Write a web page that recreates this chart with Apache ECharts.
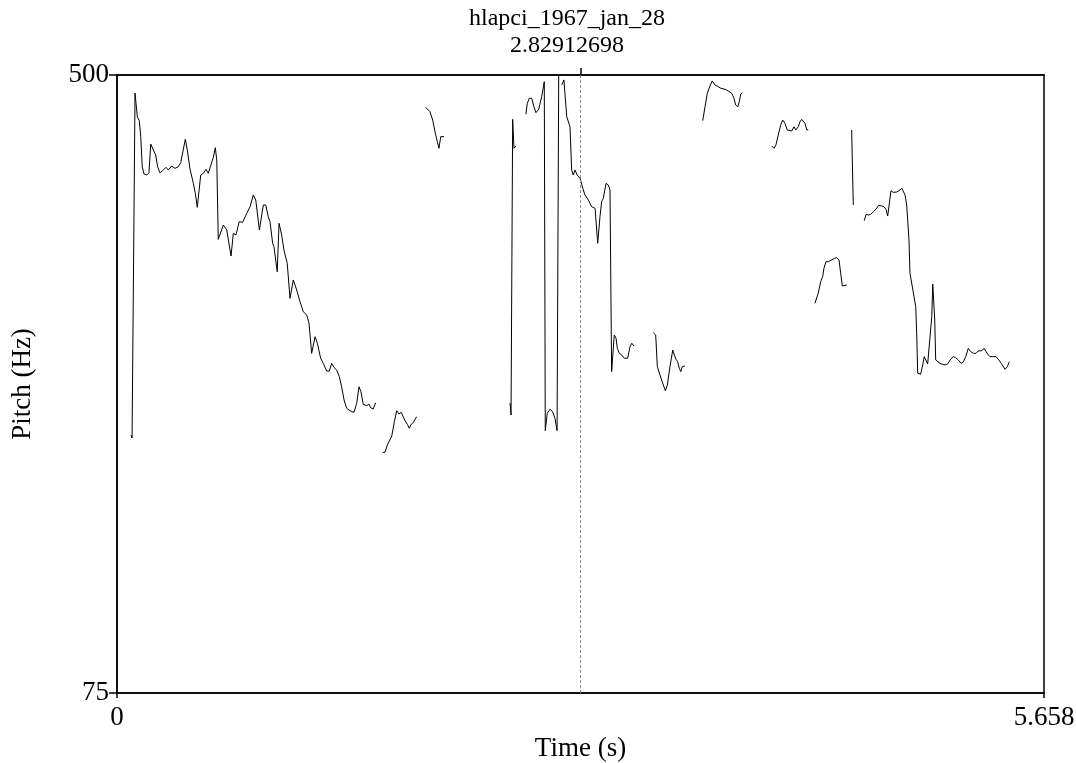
<!DOCTYPE html>
<html>
<head>
<meta charset="utf-8">
<title>hlapci_1967_jan_28</title>
<script src="https://cdn.jsdelivr.net/npm/echarts@6/dist/echarts.min.js"></script>
<style>
  html, body { margin: 0; padding: 0; background: #fff; }
  #chart { width: 1076px; height: 763px; }
</style>
</head>
<body>
<div id="chart"></div>
<script>
// Pitch track of hlapci_1967_jan_28: voiced stretches as [time (s), F0 (Hz)]
const contour01 = [
  [0.085,252.4],[0.092,250.4],[0.110,487.6],[0.124,471.3],[0.136,468.6],[0.145,457.6],[0.154,436.9],
  [0.165,431.9],[0.181,431.2],[0.195,432.8],[0.206,452.5],[0.222,448.4],[0.236,445.0],[0.248,436.9],
  [0.262,432.8],[0.279,434.2],[0.299,436.5],[0.313,434.7],[0.334,437.4],[0.354,435.8],[0.374,436.9],
  [0.389,439.7],[0.401,438.6],[0.417,455.8],[0.429,448.4],[0.446,435.1],[0.466,425.5],[0.478,418.6],
  [0.490,409.0],[0.511,431.2],[0.527,432.4],[0.543,435.1],[0.557,432.4],[0.568,432.8],[0.588,443.4],
  [0.600,450.0],[0.609,441.5],[0.618,387.0],[0.649,396.8],[0.670,393.4],[0.696,375.5],[0.710,391.1],
  [0.726,390.0],[0.746,399.1],[0.767,398.7],[0.792,404.9],[0.812,409.4],[0.832,417.5],[0.847,414.0],
  [0.869,393.4],[0.879,393.4],[0.893,410.6],[0.908,410.6],[0.923,402.6],[0.934,399.1],[0.950,384.3],
  [0.958,381.9],[0.978,364.7],[0.989,398.0],[1.005,390.0],[1.019,379.7],[1.039,370.5],[1.056,346.4],
  [1.076,359.0],[1.097,352.1],[1.117,344.1],[1.137,337.2],[1.158,335.0],[1.172,329.2],[1.188,308.6],
  [1.209,320.0],[1.223,315.5],[1.243,305.2],[1.259,301.7],[1.280,296.4],[1.296,296.4],[1.310,301.7],
  [1.324,299.0],[1.341,297.1],[1.357,292.5],[1.371,285.6],[1.386,276.5],[1.402,270.8],[1.422,269.1],
  [1.447,268.0],[1.463,274.2],[1.477,285.6],[1.489,282.2],[1.503,273.5],[1.524,272.6],[1.538,273.7],
  [1.548,271.2],[1.564,270.3],[1.579,274.6]
];
const contour02 = [
  [1.622,240.5],[1.636,240.5],[1.650,245.5],[1.677,251.7],[1.693,261.6],[1.707,269.1],[1.721,266.9],
  [1.735,268.0],[1.756,262.7],[1.772,259.8],[1.784,257.0],[1.793,259.3],[1.809,261.2],[1.829,265.0]
];
const contour03 = [
  [1.884,477.8],[1.910,474.8],[1.927,469.0],[1.941,461.0],[1.955,454.1],[1.965,449.6],[1.976,457.6],
  [1.996,457.6]
];
const contour04 = [
  [2.399,274.4],[2.405,266.2],[2.415,469.5],[2.423,449.6],[2.435,451.2]
];
const contour05 = [
  [2.496,473.0],[2.504,480.5],[2.517,484.0],[2.531,484.0],[2.545,478.2],[2.557,474.1],[2.574,476.4],
  [2.592,485.1],[2.608,495.4],[2.614,255.4],[2.626,267.4],[2.643,270.1],[2.659,268.5],[2.673,263.9],
  [2.686,255.4],[2.696,499.3]
];
const contour06 = [
  [2.714,493.1],[2.728,496.6],[2.734,487.4],[2.745,471.3],[2.755,471.3],[2.765,464.4],[2.775,434.7],
  [2.785,431.2],[2.795,434.7],[2.809,431.2],[2.826,429.0],[2.843,422.1],[2.856,417.5],[2.877,414.0],
  [2.897,409.4],[2.907,408.3],[2.918,408.3],[2.934,384.3],[2.948,402.6],[2.958,412.9],[2.968,415.2],
  [2.985,425.5],[2.999,424.3],[3.009,420.9],[3.015,420.9],[3.019,296.0],[3.029,296.0],[3.035,321.2],
  [3.046,318.9],[3.054,312.0],[3.066,308.6],[3.081,307.4],[3.096,305.2],[3.117,305.2],[3.131,313.2],
  [3.142,315.5],[3.156,313.6]
];
const contour07 = [
  [3.273,322.8],[3.288,321.2],[3.298,299.4],[3.314,293.7],[3.331,288.0],[3.347,282.9],[3.359,286.8],
  [3.375,299.4],[3.392,310.9],[3.402,307.4],[3.412,304.5],[3.422,302.8],[3.432,298.3],[3.441,296.0],
  [3.450,299.4],[3.467,299.9]
];
const contour08 = [
  [3.575,468.6],[3.589,478.2],[3.603,487.4],[3.619,492.4],[3.633,495.9],[3.650,493.1],[3.664,492.4],
  [3.685,490.9],[3.711,490.2],[3.731,489.0],[3.752,487.4],[3.766,484.0],[3.776,479.4],[3.789,478.2],
  [3.798,481.6],[3.807,486.9],[3.817,487.8]
];
const contour09 = [
  [3.996,451.2],[4.010,449.6],[4.022,451.9],[4.036,458.7],[4.051,465.6],[4.063,469.0],[4.077,466.8],
  [4.091,462.2],[4.103,463.3],[4.118,461.5],[4.132,464.4],[4.144,462.2],[4.158,464.4],[4.169,467.9],
  [4.179,469.5],[4.189,470.2],[4.199,466.8],[4.210,462.2],[4.219,462.2]
];
const contour10 = [
  [4.260,343.0],[4.280,349.9],[4.295,357.9],[4.307,361.3],[4.315,367.1],[4.327,371.6],[4.341,371.6],
  [4.362,372.8],[4.378,373.9],[4.393,374.4],[4.407,372.8],[4.417,363.6],[4.427,354.9],[4.439,355.6],
  [4.454,355.6]
];
const contour11 = [
  [4.484,462.2],[4.494,410.6]
];
const contour12 = [
  [4.561,399.8],[4.572,404.2],[4.586,403.7],[4.600,404.2],[4.616,406.0],[4.633,407.8],[4.647,410.1],
  [4.663,410.1],[4.681,409.4],[4.694,407.6],[4.704,403.0],[4.714,411.8],[4.724,420.4],[4.738,419.3],
  [4.759,419.5],[4.773,420.4],[4.790,422.1],[4.799,421.4],[4.810,417.5],[4.820,410.6],[4.826,409.4],
  [4.834,386.5],[4.840,363.6],[4.852,363.6],[4.865,347.5],[4.875,340.7],[4.881,322.4],[4.887,294.9],
  [4.905,294.2],[4.918,300.6],[4.927,306.3],[4.938,305.2],[4.948,301.3],[4.958,301.1],[4.973,333.8],
  [4.979,356.3],[4.987,355.6],[4.991,331.5],[4.997,304.0],[5.009,302.8],[5.023,301.7],[5.037,301.1],
  [5.054,300.6],[5.070,301.3],[5.089,304.7],[5.104,306.3],[5.119,305.6],[5.135,304.0],[5.152,301.7],
  [5.166,302.8],[5.180,306.3],[5.196,312.0],[5.211,309.7],[5.227,308.6],[5.243,308.6],[5.257,310.2],
  [5.278,310.4],[5.292,312.0],[5.304,312.0],[5.314,308.1],[5.328,306.3],[5.345,306.3],[5.365,306.3],
  [5.379,304.5],[5.400,301.3],[5.420,297.6],[5.434,299.4],[5.446,302.8]
];

const contours = [contour01, contour02, contour03, contour04, contour05, contour06,
                  contour07, contour08, contour09, contour10, contour11, contour12];

// Axis ranges and labels
const timeRange = [0, 5.658];
const timeTicks = [0, 5.658];
const timeTickLabels = ['0', '5.658'];
const pitchRange = [75, 500];
const pitchTicks = [75, 500];
const pitchTickLabels = ['75', '500'];
const cursorTime = 2.82912698;
const cursorLabel = '2.82912698';
const soundName = 'hlapci_1967_jan_28';

const FONT = '"Liberation Serif", "Times New Roman", serif';
const chart = echarts.init(document.getElementById('chart'), null, { renderer: 'canvas' });

const series = contours.map((c, i) => ({
  type: 'line',
  data: c,
  showSymbol: false,
  symbol: 'none',
  silent: true,
  lineStyle: { color: '#000', width: 1 },
  z: 3,
  markLine: i === 0 ? {
    silent: true,
    symbol: ['none', 'none'],
    label: { show: false },
    lineStyle: { color: '#8a8a8a', width: 1, type: [3, 2] },
    data: [{ xAxis: cursorTime }]
  } : undefined
}));

chart.setOption({
  animation: false,
  backgroundColor: '#fff',
  grid: {
    left: 117, right: 32, top: 75, bottom: 70,
    show: true, borderColor: '#000', borderWidth: 1.5,
    containLabel: false, outerBoundsMode: 'none'
  },
  graphic: [
    { type: 'text', x: 567, y: 19, style: { text: soundName, font: '24px ' + FONT, fill: '#000', textAlign: 'center', textVerticalAlign: 'middle' } },
    { type: 'text', x: 567, y: 46, style: { text: cursorLabel, font: '24px ' + FONT, fill: '#000', textAlign: 'center', textVerticalAlign: 'middle' } }
  ],
  xAxis: [
    {
      type: 'value', min: timeRange[0], max: timeRange[1], position: 'bottom',
      name: 'Time (s)', nameLocation: 'middle', nameGap: 40,
      nameTextStyle: { fontFamily: FONT, fontSize: 27, color: '#000' },
      axisLine: { show: true, lineStyle: { color: '#000', width: 1.5 } },
      axisTick: { show: true, length: 5, lineStyle: { color: '#000', width: 1.5 }, customValues: timeTicks },
      axisLabel: { show: true, customValues: timeTicks, margin: 11, fontFamily: FONT, fontSize: 27, color: '#000',
        formatter: v => timeTickLabels[timeTicks.indexOf(v)] },
      splitLine: { show: false }
    },
    {
      type: 'value', min: timeRange[0], max: timeRange[1], position: 'top',
      axisLine: { show: true, lineStyle: { color: '#000', width: 1.5 } },
      axisTick: { show: true, length: 7, lineStyle: { color: '#000', width: 1.5 }, customValues: [cursorTime] },
      axisLabel: { show: false },
      splitLine: { show: false }
    }
  ],
  yAxis: {
    type: 'value', min: pitchRange[0], max: pitchRange[1],
    name: 'Pitch (Hz)', nameLocation: 'middle', nameGap: 81, nameRotate: 90,
    nameTextStyle: { fontFamily: FONT, fontSize: 27, color: '#000' },
    axisLine: { show: true, lineStyle: { color: '#000', width: 1.5 } },
    axisTick: { show: true, length: 8, lineStyle: { color: '#000', width: 1.5 }, customValues: pitchTicks },
    axisLabel: { show: true, customValues: pitchTicks, margin: 8, fontFamily: FONT, fontSize: 27, color: '#000',
      formatter: v => pitchTickLabels[pitchTicks.indexOf(v)] },
    splitLine: { show: false }
  },
  series: series
});
</script>
</body>
</html>
